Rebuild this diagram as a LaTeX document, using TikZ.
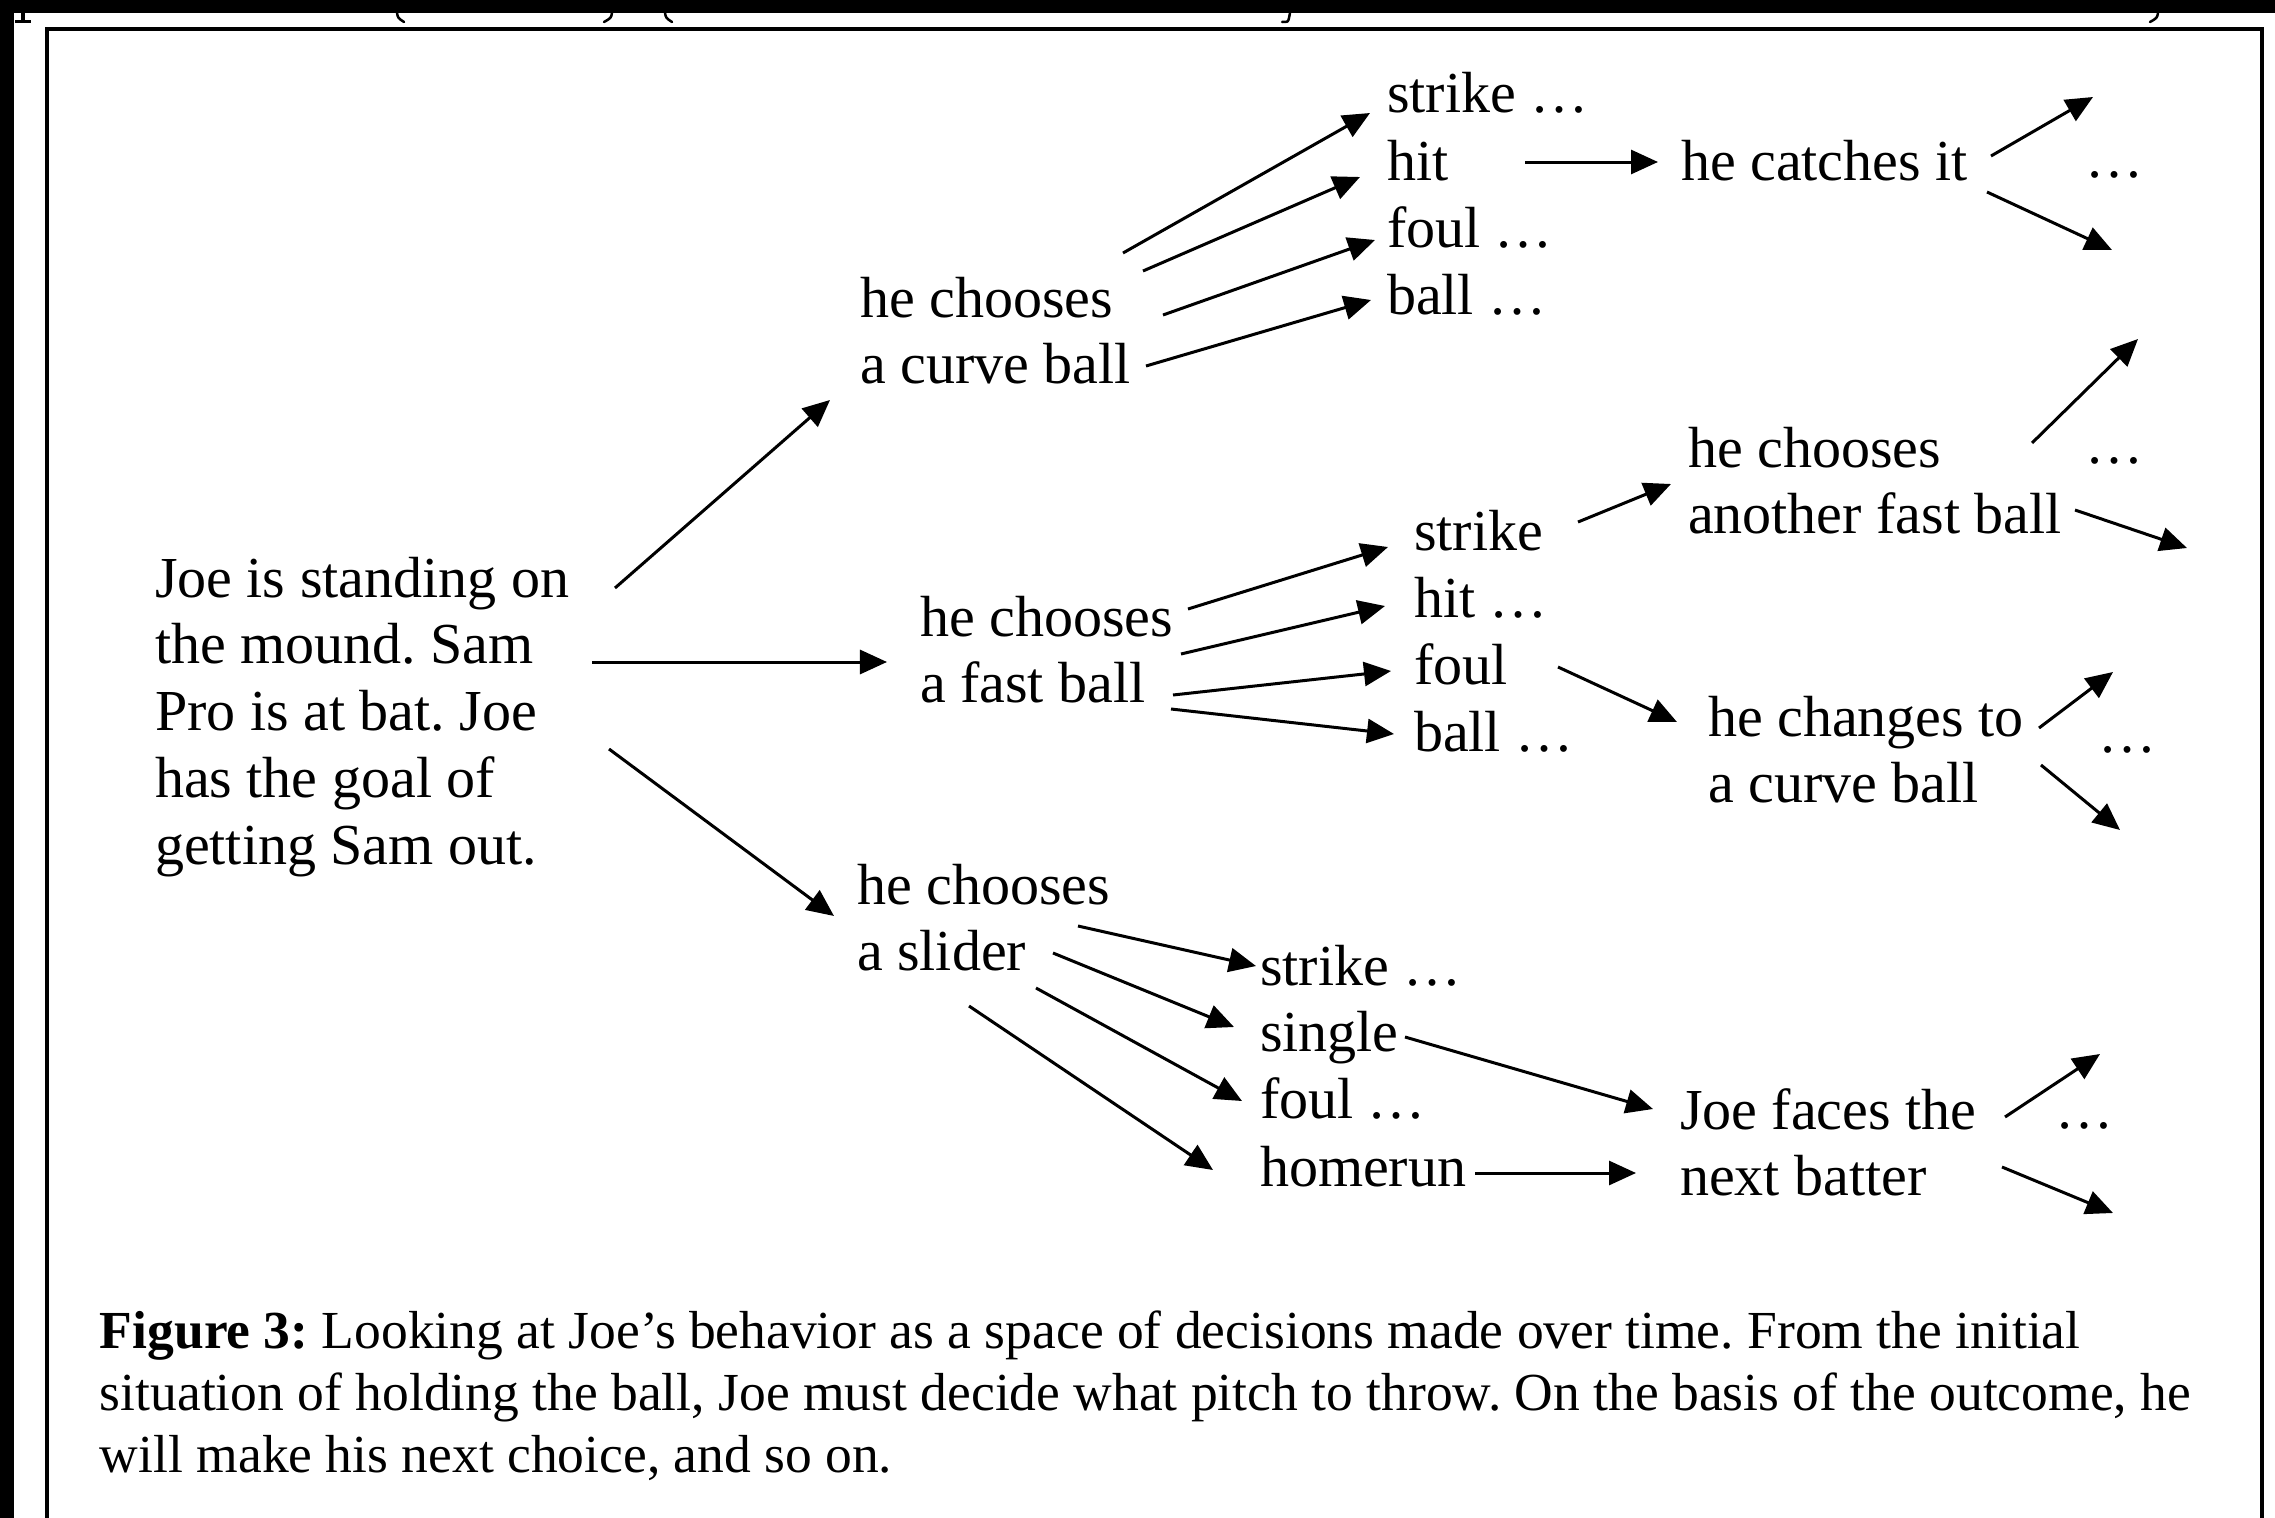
\documentclass[tikz,border=0pt]{standalone}
\usepackage{fontspec}
\setmainfont{Liberation Serif}
\usetikzlibrary{arrows.meta,calc}
% left-aligned lines whose baseline is that of the first line
\newcommand{\txtrows}[1]{\begin{tabular}[t]{@{}l@{}}#1\end{tabular}}
\begin{document}
\frenchspacing
\begin{tikzpicture}[x=0.01cm,y=-0.01cm,
  lbl/.style={anchor=base west,inner sep=0pt,outer sep=0pt,
              font=\fontsize{16.5}{19}\selectfont},
  captext/.style={anchor=base west,inner sep=0pt,outer sep=0pt,
              font=\fontsize{15.22}{17.64}\selectfont},
  arr/.style={line width=0.03cm,-{Triangle[length=0.27cm,width=0.24cm]}},
  boxline/.style={line width=0.04cm},
  scrap/.style={line width=0.025cm,line cap=round}]
\useasboundingbox (0,0) rectangle (2275,1518);
\fill[white] (0,0) rectangle (2275,1518);
% dark margins on the top and left edges
\fill[black] (0,0) rectangle (2275,13);
\fill[black] (0,0) rectangle (14,1518);
% cut-off descenders of the line above the frame
\fill[black] (21,13) rectangle (25,20);
\fill[black] (15,19.5) rectangle (31,22.5);
\draw[scrap] (397,13) .. controls (398,18) .. (404,22);
\draw[scrap] (612,13) .. controls (611,18) .. (604,22);
\draw[scrap] (665,13) .. controls (666,18) .. (672,22);
\draw[scrap] (1290,13) -- (1289,18) .. controls (1288,22) .. (1282,22);
\draw[scrap] (2158,13) .. controls (2157,18) .. (2150,22);
% frame
\draw[boxline] (47,28.7) rectangle (2262,1520);

% root
\node[lbl] (root) at (155,597) {\txtrows{Joe is standing on\\the mound. Sam\\Pro is at bat. Joe\\has the goal of\\getting Sam out.}};

% curve ball branch
\node[lbl] (curve) at (860,317) {\txtrows{he chooses\\a curve ball}};
\node[lbl] (s1) at (1387,113) {strike …};
\node[lbl] (h1) at (1387,180) {hit};
\node[lbl] (f1) at (1387,247) {foul …};
\node[lbl] (b1) at (1387,314) {ball …};
\node[lbl] (catch) at (1681,180) {he catches it};
\node[lbl] (e1) at (2085,177) {…};

% fast ball branch
\node[lbl] (fast) at (920,636) {\txtrows{he chooses\\a fast ball}};
\node[lbl] (s2) at (1414,550) {strike};
\node[lbl] (h2) at (1414,617) {hit …};
\node[lbl] (f2) at (1414,684) {foul};
\node[lbl] (b2) at (1414,751) {ball …};
\node[lbl] (another) at (1688,467) {\txtrows{he chooses\\another fast ball}};
\node[lbl] (e2) at (2085,463) {…};
\node[lbl] (change) at (1708,736) {\txtrows{he changes to\\a curve ball}};
\node[lbl] (e3) at (2098,752) {…};

% slider branch
\node[lbl] (slider) at (857,904) {\txtrows{he chooses\\a slider}};
\node[lbl] (s3) at (1260,985) {strike …};
\node[lbl] (sg) at (1260,1051) {single};
\node[lbl] (f3) at (1260,1118) {foul …};
\node[lbl] (hr) at (1260,1186) {homerun};
\node[lbl] (faces) at (1680,1129) {\txtrows{Joe faces the\\next batter}};
\node[lbl] (e4) at (2055,1128) {…};

% open ends of the last choices
\coordinate (e1up) at ($(e1.base west)+(8,-80)$);
\coordinate (e1dn) at ($(e1.base west)+(27,73)$);
\coordinate (e2up) at ($(e2.base west)+(53,-124)$);
\coordinate (e2dn) at ($(e2.base west)+(102,85)$);
\coordinate (e3up) at ($(e3.base west)+(15,-80)$);
\coordinate (e3dn) at ($(e3.base west)+(22,78)$);
\coordinate (e4up) at ($(e4.base west)+(45,-74)$);
\coordinate (e4dn) at ($(e4.base west)+(58,85)$);

% pitches
\draw[arr] ($(root.base west)+(460,-9)$) -- ($(curve.base west)+(-30,83)$);
\draw[arr] ($(root.base west)+(437,65)$) -- ($(fast.base west)+(-33,26)$);
\draw[arr] ($(root.base west)+(454,152)$) -- ($(slider.base west)+(-23,12)$);

% outcomes of the curve ball
\draw[arr] ($(curve.base west)+(263,-64)$) -- ($(s1.base west)+(-17,0)$);
\draw[arr] ($(curve.base west)+(283,-46)$) -- ($(h1.base west)+(-27,-3)$);
\draw[arr] ($(curve.base west)+(303,-2)$) -- ($(f1.base west)+(-12,-7)$);
\draw[arr] ($(curve.base west)+(286,49)$) -- ($(b1.base west)+(-16,-14)$);
\draw[arr] ($(h1.base west)+(138,-18)$) -- ($(catch.base west)+(-23,-18)$);
\draw[arr] ($(catch.base west)+(310,-24)$) -- (e1up);
\draw[arr] ($(catch.base west)+(306,12)$) -- (e1dn);

% outcomes of the fast ball
\draw[arr] ($(fast.base west)+(268,-27)$) -- ($(s2.base west)+(-26,-3)$);
\draw[arr] ($(fast.base west)+(261,18)$) -- ($(h2.base west)+(-29,-11)$);
\draw[arr] ($(fast.base west)+(253,59)$) -- ($(f2.base west)+(-23,-13)$);
\draw[arr] ($(fast.base west)+(251,73)$) -- ($(b2.base west)+(-20,-17)$);
\draw[arr] ($(s2.base west)+(164,-28)$) -- ($(another.base west)+(-17,17)$);
\draw[arr] ($(f2.base west)+(144,-17)$) -- ($(change.base west)+(-31,-14)$);
\draw[arr] ($(another.base west)+(344,-24)$) -- (e2up);
\draw[arr] ($(another.base west)+(387,43)$) -- (e2dn);
\draw[arr] ($(change.base west)+(331,-8)$) -- (e3up);
\draw[arr] ($(change.base west)+(333,29)$) -- (e3dn);

% outcomes of the slider
\draw[arr] ($(slider.base west)+(221,22)$) -- ($(s3.base west)+(-4,-19)$);
\draw[arr] ($(slider.base west)+(196,49)$) -- ($(sg.base west)+(-26,-24)$);
\draw[arr] ($(slider.base west)+(179,84)$) -- ($(f3.base west)+(-18,-17)$);
\draw[arr] ($(slider.base west)+(112,102)$) -- ($(hr.base west)+(-47,-16)$);
\draw[arr] ($(sg.base west)+(145,-14)$) -- ($(faces.base west)+(-27,-20)$);
\draw[arr] ($(hr.base west)+(215,-13)$) -- ($(faces.base west)+(-44,44)$);
\draw[arr] ($(faces.base west)+(325,-12)$) -- (e4up);
\draw[arr] ($(faces.base west)+(322,38)$) -- (e4dn);

% caption
\node[captext] (caption) at (100,1348) {\txtrows{\textbf{Figure 3:} Looking at Joe’s behavior as a space of decisions made over time. From the initial\\situation of holding the ball, Joe must decide what pitch to throw. On the basis of the outcome, he\\will make his next choice, and so on.}};
\end{tikzpicture}
\end{document}
